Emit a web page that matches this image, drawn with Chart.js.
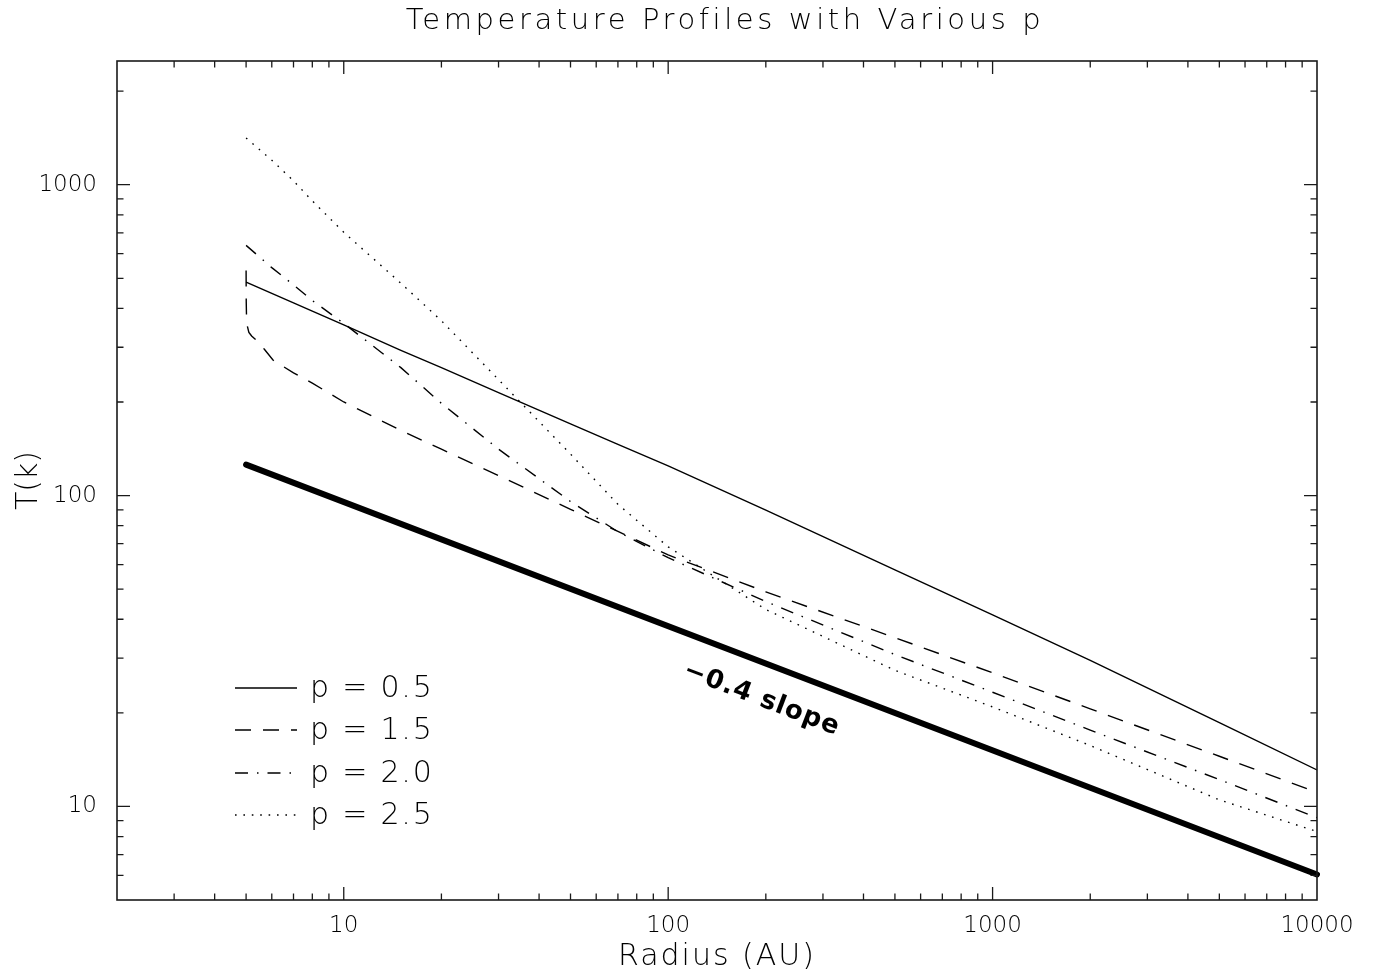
<!DOCTYPE html>
<html>
<head>
<meta charset="utf-8">
<style>
  html, body { margin: 0; padding: 0; background: #ffffff; }
  canvas { display: block; }
</style>
<script src="https://cdn.jsdelivr.net/npm/chart.js@4.4.1/dist/chart.umd.min.js"></script>
</head>
<body>
<canvas id="c" width="1381" height="980"></canvas>
<script>
// ---------------- data ----------------
const seriesLabels = ['p = 0.5', 'p = 1.5', 'p = 2.0', 'p = 2.5'];

const radiusP05 = [5, 6, 7, 8, 10, 15, 20, 30, 50, 70, 100, 200, 500, 1000, 2000, 5000, 10000];
const tempP05   = [486, 447, 417, 392, 354, 293, 258, 214.5, 170, 146, 124.5, 89.8, 57.7, 41.3, 29.5, 18.6, 13.1];

const radiusP15 = [5, 5.005, 5.015, 5.04, 5.1, 5.2, 5.38, 5.7, 6.05, 7, 8, 10, 15, 20, 30, 50, 70, 100, 200, 500, 1000, 2000, 5000, 10000];
const tempP15   = [530, 420, 375, 352, 335, 326, 316, 295, 273, 248, 230, 200, 162, 141, 116, 90.3, 76.7, 64.4, 49, 34.9, 26.9, 20.6, 14.5, 11.1];

const radiusP20 = [5, 6, 7, 8, 10, 15, 20, 30, 50, 70, 100, 200, 500, 1000, 2000, 5000, 10000];
const tempP20   = [638, 541, 476, 424, 358, 258, 198, 141, 95.7, 76.5, 63.1, 45.6, 30.8, 23.3, 17.6, 12.2, 9.2];

const radiusP25 = [5, 6, 7, 8, 10, 15, 20, 30, 50, 70, 100, 200, 500, 1000, 2000, 5000, 10000];
const tempP25   = [1413, 1199, 1029, 887, 703, 482, 365, 236, 136, 93.7, 68.4, 43.0, 27.4, 20.9, 15.7, 10.5, 8.3];

const radiusSlope = [5, 10000];
const tempSlope   = [125.8, 6.04];
const slopeText = '\u22120.4 slope';
const slopeTextAt = { r: 194, T: 22.1 };

const xTickLabels = ['10', '100', '1000', '10000'];
const yTickLabels = ['10', '100', '1000'];
const xRange = [2, 10000];
const yRange = [5, 2500];

// tick positions: 1..9 x 10^n inside the range
function logTicks(lo, hi) {
  const out = [];
  for (let e = Math.floor(Math.log10(lo)); e <= Math.ceil(Math.log10(hi)); e++) {
    for (let m = 1; m <= 9; m++) {
      const v = Math.round(m * Math.pow(10, e) * 1e6) / 1e6;
      if (v >= lo && v <= hi) out.push(v);
    }
  }
  return out;
}
const xTickValues = logTicks(xRange[0], xRange[1]);
const yTickValues = logTicks(yRange[0], yRange[1]);

// ---------------- styling ----------------
const FONT = "'DejaVu Sans', 'Liberation Sans', sans-serif";
const INK = '#000000';
const dashStyles = [[], [16, 12], [13, 9, 1.5, 9], [1.6, 6.8]];

function pts(rs, ts) { return rs.map((r, i) => ({ x: r, y: ts[i] })); }

const datasets = [
  { label: seriesLabels[0], data: pts(radiusP05, tempP05), borderDash: dashStyles[0] },
  { label: seriesLabels[1], data: pts(radiusP15, tempP15), borderDash: dashStyles[1] },
  { label: seriesLabels[2], data: pts(radiusP20, tempP20), borderDash: dashStyles[2] },
  { label: seriesLabels[3], data: pts(radiusP25, tempP25), borderDash: dashStyles[3] },
].map(d => Object.assign(d, {
  borderColor: INK, borderWidth: 1.4, pointRadius: 0, tension: 0, fill: false
}));
datasets.push({
  label: 'slope', data: pts(radiusSlope, tempSlope), borderColor: INK,
  borderWidth: 6, pointRadius: 0, tension: 0, fill: false, borderCapStyle: 'round', clip: 6
});

function isPow10(v) {
  const l = Math.log10(v);
  return Math.abs(l - Math.round(l)) < 1e-9;
}

// letter spacing helper for text drawn by Chart.js
function spaced(obj, method, spacing, shiftX) {
  if (!obj || obj['_sp_' + method]) return;
  const orig = obj[method];
  obj[method] = function (...args) {
    const c = this.ctx;
    c.save();
    c.letterSpacing = spacing;
    if (shiftX) c.translate(shiftX, 0);
    const r = orig.apply(this, args);
    c.restore();
    return r;
  };
  obj['_sp_' + method] = true;
}

const spacingPlugin = {
  id: 'spacing',
  beforeDraw(chart) {
    spaced(chart.titleBlock, 'draw', '3.6px', 8);
    spaced(chart.scales.x, 'drawTitle', '2px', 0);
  }
};

const frameTicks = {
  id: 'frameTicks',
  afterDatasetsDraw(chart) {
    const { ctx, chartArea: ca, scales: { x, y } } = chart;
    ctx.save();
    ctx.strokeStyle = '#1a1a1a';
    ctx.lineWidth = 1.6;
    ctx.strokeRect(ca.left, ca.top, ca.right - ca.left, ca.bottom - ca.top);
    ctx.lineWidth = 1.3;
    ctx.beginPath();
    x.ticks.forEach(t => {
      const px = x.getPixelForValue(t.value);
      if (px < ca.left + 0.5 || px > ca.right - 0.5) return;
      const L = isPow10(t.value) ? 13 : 6.5;
      ctx.moveTo(px, ca.bottom); ctx.lineTo(px, ca.bottom - L);
      ctx.moveTo(px, ca.top); ctx.lineTo(px, ca.top + L);
    });
    y.ticks.forEach(t => {
      const py = y.getPixelForValue(t.value);
      if (py < ca.top + 0.5 || py > ca.bottom - 0.5) return;
      const L = isPow10(t.value) ? 13 : 6.5;
      ctx.moveTo(ca.left, py); ctx.lineTo(ca.left + L, py);
      ctx.moveTo(ca.right, py); ctx.lineTo(ca.right - L, py);
    });
    ctx.stroke();
    ctx.restore();
  }
};

const legendAndNote = {
  id: 'legendAndNote',
  afterDatasetsDraw(chart) {
    const { ctx, chartArea: ca, scales: { x, y } } = chart;
    ctx.save();
    // legend, lower left inside the frame
    const rowY = [ca.bottom - 212, ca.bottom - 170, ca.bottom - 127, ca.bottom - 85];
    for (let i = 0; i < 4; i++) {
      const ds = chart.data.datasets[i];
      ctx.strokeStyle = INK;
      ctx.lineWidth = 1.4;
      ctx.setLineDash(ds.borderDash || []);
      ctx.beginPath();
      ctx.moveTo(ca.left + 118, rowY[i]);
      ctx.lineTo(ca.left + 180, rowY[i]);
      ctx.stroke();
      ctx.setLineDash([]);
      ctx.fillStyle = INK;
      ctx.font = "300 30px " + FONT;
      ctx.letterSpacing = '1.8px';
      ctx.textAlign = 'left';
      ctx.textBaseline = 'middle';
      ctx.fillText(ds.label, ca.left + 193, rowY[i] + 1);
    }
    // "-0.4 slope" note, parallel to the thick line
    const sx0 = x.getPixelForValue(radiusSlope[0]), sy0 = y.getPixelForValue(tempSlope[0]);
    const sx1 = x.getPixelForValue(radiusSlope[1]), sy1 = y.getPixelForValue(tempSlope[1]);
    const ang = Math.atan2(sy1 - sy0, sx1 - sx0);
    ctx.translate(x.getPixelForValue(slopeTextAt.r), y.getPixelForValue(slopeTextAt.T));
    ctx.rotate(ang);
    ctx.letterSpacing = '1px';
    ctx.font = "bold 26px " + FONT;
    ctx.textAlign = 'center';
    ctx.textBaseline = 'middle';
    ctx.fillText(slopeText, 0, 0);
    ctx.restore();
  }
};

new Chart(document.getElementById('c').getContext('2d'), {
  type: 'line',
  data: { datasets },
  plugins: [spacingPlugin, frameTicks, legendAndNote],
  options: {
    responsive: false,
    animation: false,
    events: [],
    layout: { padding: { left: 0, right: 64, top: 0, bottom: 0 } },
    plugins: {
      legend: { display: false },
      tooltip: { enabled: false },
      title: {
        display: true,
        fullSize: false,
        text: 'Temperature Profiles with Various p',
        color: INK,
        font: { family: FONT, size: 29, weight: '300', lineHeight: 1.2 },
        padding: { top: 4, bottom: 22.2 }
      }
    },
    scales: {
      x: {
        type: 'logarithmic',
        min: xRange[0], max: xRange[1],
        grid: { display: false, drawTicks: false },
        border: { display: false },
        afterBuildTicks: s => { s.ticks = xTickValues.map(v => ({ value: v })); },
        afterFit: s => { s.height = 80; },
        ticks: {
          autoSkip: false, maxRotation: 0, minRotation: 0, padding: 12, color: INK,
          font: { family: FONT, size: 23, weight: '300' },
          callback: v => xTickLabels.includes(String(v)) ? String(v) : ''
        },
        title: {
          display: true, text: 'Radius (AU)', color: INK,
          font: { family: FONT, size: 30, weight: '300', lineHeight: 1.2 },
          padding: { top: 0, bottom: 5 }
        }
      },
      y: {
        type: 'logarithmic',
        min: yRange[0], max: yRange[1],
        grid: { display: false, drawTicks: false },
        border: { display: false },
        afterBuildTicks: s => { s.ticks = yTickValues.map(v => ({ value: v })); },
        afterFit: s => { s.width = 117; },
        ticks: {
          autoSkip: false, padding: 20, color: INK,
          font: { family: FONT, size: 23, weight: '300' },
          callback: v => yTickLabels.includes(String(v)) ? String(v) : ''
        },
        title: {
          display: true, text: 'T(k)', color: INK,
          font: { family: FONT, size: 30, weight: '300', lineHeight: 1.2 },
          padding: { top: 11, bottom: 0 }
        }
      }
    }
  }
});
</script>
</body>
</html>
